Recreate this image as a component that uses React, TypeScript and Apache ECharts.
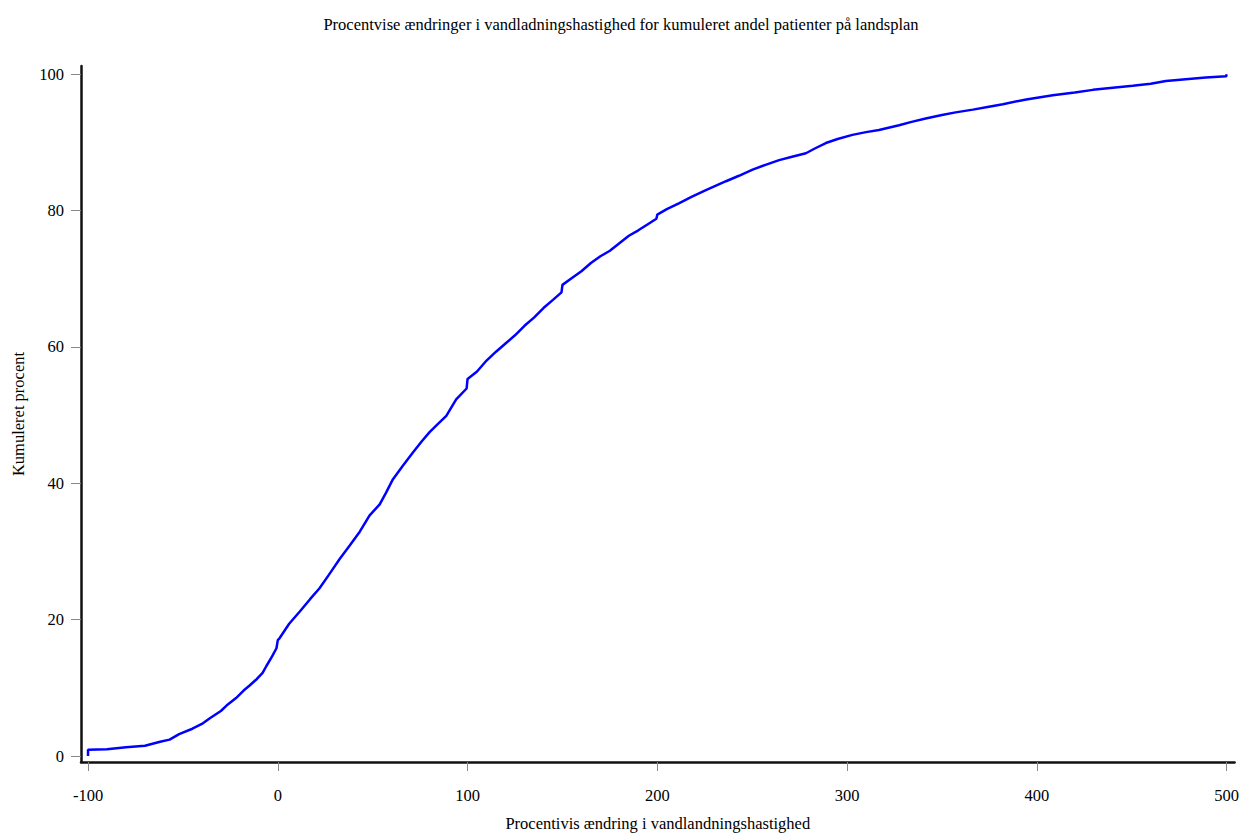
import React, { useEffect, useRef } from "react";
import * as echarts from "echarts";

const titleText =
  "Procentvise ændringer i vandladningshastighed for kumuleret andel patienter på landsplan";
const xName = "Procentivis ændring i vandlandningshastighed";
const yName = "Kumuleret procent";

const xTicks = [-100, 0, 100, 200, 300, 400, 500];
const yTicks = [0, 20, 40, 60, 80, 100];

// Cumulative percent curve (x = percent change, y = cumulative percent)
const changeValues = [
  -100, -100, -90, -80, -70, -62, -57, -52, -45, -40, -36, -30, -27, -22, -18,
  -15, -11, -8, -6, -3, -0.7, 0, 1, 6, 11.6, 17, 22, 27, 32.6, 38, 43.2, 48.4,
  53.7, 57, 60.7, 66, 71.2, 76, 80, 84, 88.8, 94, 99.5, 100, 105, 110, 115,
  120, 125, 130, 135, 140, 145, 149.5, 150, 155, 160, 165, 170, 175, 180, 185,
  190, 195, 199.5, 200, 205, 211.6, 218, 225.6, 236.2, 243, 250.2, 257, 264.2,
  271, 278.3, 283, 288.8, 295, 302.8, 310, 316.8, 327.4, 334, 341.4, 350,
  357.2, 366.3, 374, 382.1, 394.4, 408.4, 420, 429.5, 440, 450.5, 460, 468,
  480, 489, 499.8, 500,
];
const cumulativePercent = [
  0, 0.9, 1.0, 1.3, 1.5, 2.1, 2.4, 3.2, 4.0, 4.7, 5.5, 6.6, 7.4, 8.5, 9.6,
  10.3, 11.3, 12.2, 13.2, 14.6, 15.8, 17.0, 17.3, 19.4, 21.2, 23.0, 24.6, 26.6,
  28.9, 30.9, 32.9, 35.3, 36.9, 38.6, 40.6, 42.6, 44.5, 46.2, 47.5, 48.6, 49.9,
  52.3, 53.9, 55.3, 56.4, 58.0, 59.3, 60.5, 61.7, 63.1, 64.3, 65.7, 66.9,
  68.0, 69.1, 70.1, 71.1, 72.3, 73.3, 74.1, 75.2, 76.3, 77.1, 78.0, 78.8,
  79.4, 80.2, 81.1, 82.0, 83.0, 84.3, 85.1, 86.0, 86.7, 87.4, 87.9, 88.4,
  89.1, 89.9, 90.5, 91.1, 91.5, 91.8, 92.5, 93.0, 93.5, 94.0, 94.4, 94.8,
  95.2, 95.6, 96.3, 96.9, 97.3, 97.7, 98.0, 98.3, 98.6, 99.0, 99.3, 99.5,
  99.7, 100,
];

const FONT = "'Liberation Serif', 'Times New Roman', serif";

export default function App() {
  const ref = useRef<HTMLDivElement>(null);
  useEffect(() => {
    if (!ref.current) return;
    const chart = echarts.init(ref.current, undefined, { renderer: "svg" });
    const data = changeValues.map((x, i) => [x, cumulativePercent[i]]);
    chart.setOption({
      animation: false,
      backgroundColor: "#ffffff",
      textStyle: { fontFamily: FONT },
      title: {
        text: titleText,
        left: "center",
        top: 11,
        textStyle: {
          fontFamily: FONT,
          fontSize: 16.5,
          fontWeight: "normal",
          color: "#000",
        },
      },
      grid: { left: 81, right: 6, top: 66, bottom: 73 },
      xAxis: {
        type: "value",
        min: -103.7,
        max: 504.2,
        name: xName,
        nameLocation: "middle",
        nameGap: 53,
        nameTextStyle: { fontFamily: FONT, fontSize: 16.5, color: "#000" },
        axisLine: { show: true, onZero: false, lineStyle: { color: "#111", width: 2.5 } },
        axisTick: {
          show: true,
          length: 9,
          customValues: xTicks,
          lineStyle: { color: "#888", width: 1 },
        },
        axisLabel: {
          customValues: xTicks,
          margin: 25,
          fontFamily: FONT,
          fontSize: 16.5,
          color: "#000",
        },
        splitLine: { show: false },
      },
      yAxis: {
        type: "value",
        min: -0.88,
        max: 101.2,
        name: yName,
        nameLocation: "middle",
        nameGap: 54,
        nameRotate: 90,
        nameTextStyle: { fontFamily: FONT, fontSize: 16.5, color: "#000" },
        axisLine: { show: true, onZero: false, lineStyle: { color: "#111", width: 2.5 } },
        axisTick: {
          show: true,
          length: 10,
          customValues: yTicks,
          lineStyle: { color: "#888", width: 1 },
        },
        axisLabel: {
          customValues: yTicks,
          margin: 17,
          fontFamily: FONT,
          fontSize: 16.5,
          color: "#000",
        },
        splitLine: { show: false },
      },
      series: [
        {
          type: "line",
          data,
          showSymbol: false,
          symbol: "none",
          lineStyle: { color: "#0000ff", width: 2.5 },
        },
      ],
    });
    return () => chart.dispose();
  }, []);
  return (
    <div
      ref={ref}
      style={{ position: "absolute", left: 0, top: 0, width: 1242, height: 837 }}
    />
  );
}
